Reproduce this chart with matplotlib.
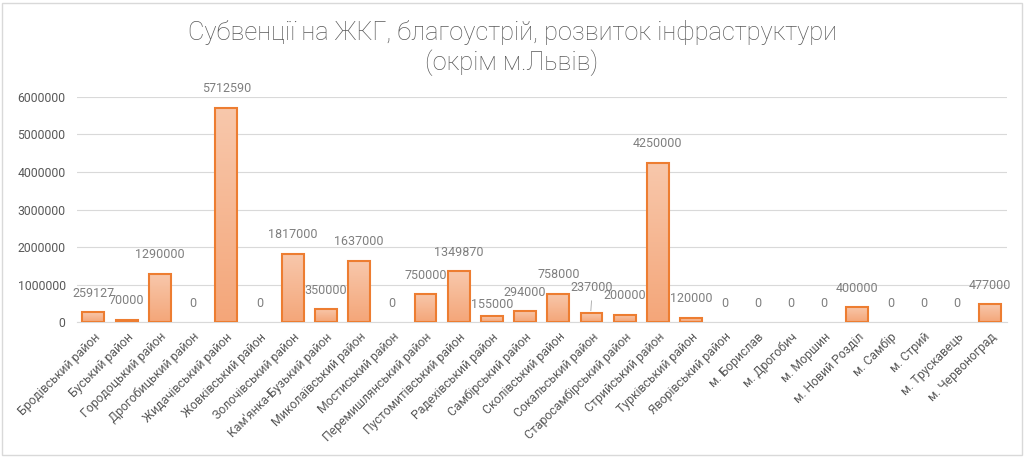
#!/usr/bin/env python3
"""Subventions bar chart (Excel-style)."""

import matplotlib
matplotlib.use("Agg")
import matplotlib.pyplot as plt
import numpy as np
from matplotlib.colors import LinearSegmentedColormap
from matplotlib.patches import Rectangle

plt.rcParams["font.family"] = ["Roboto", "DejaVu Sans"]

TITLE = "Субвенції на ЖКГ, благоустрій, розвиток інфраструктури\n(окрім м.Львів)"

districts = [
    "Бродівський район", "Буський район", "Городоцький район",
    "Дрогобицький район", "Жидачівський район", "Жовківський район",
    "Золочівський район", "Кам'янка-Бузький район", "Миколаївський район",
    "Мостиський район", "Перемишлянський район", "Пустомитівський район",
    "Радехівський район", "Самбірський район", "Сколівський район",
    "Сокальський район", "Старосамбірський район", "Стрийський район",
    "Турківський район", "Яворівський район", "м. Борислав", "м. Дрогобич",
    "м. Моршин", "м. Новий Розділ", "м. Самбір", "м. Стрий",
    "м. Трускавець", "м. Червоноград",
]
amounts = [
    259127, 70000, 1290000, 0, 5712590, 0, 1817000, 350000, 1637000, 0,
    750000, 1349870, 155000, 294000, 758000, 237000, 200000, 4250000,
    120000, 0, 0, 0, 0, 400000, 0, 0, 0, 477000,
]

EDGE = "#ED7D31"
TEXT = "#595959"
LABEL = "#7F7F7F"
grad = LinearSegmentedColormap.from_list("bar", ["#F4A679", "#F8C8AC"])

fig = plt.figure(figsize=(10.24, 4.57), dpi=100)
ax = fig.add_axes([0.075, 0.295, 0.908, 0.493])

x = np.arange(len(districts))
bars = ax.bar(x, amounts, 0.66, facecolor="none", edgecolor=EDGE,
              linewidth=1.5, zorder=3)

# vertical gradient fill inside each bar, no outline for empty bars
ramp = np.linspace(0, 1, 256).reshape(-1, 1)
for b in bars:
    if b.get_height() <= 0:
        b.set_linewidth(0)
        continue
    x0, w, h = b.get_x(), b.get_width(), b.get_height()
    im = ax.imshow(ramp, cmap=grad, origin="lower", aspect="auto",
                   extent=(x0, x0 + w, 0, h), zorder=2)
    im.set_clip_path(Rectangle((x0, 0), w, h, transform=ax.transData))

for i, val in enumerate(amounts):
    dy = 9
    if val == 237000:
        dy = 14
        ax.plot([i - 0.02, i], [val + 70000, val + 330000], color="#A6A6A6",
                lw=0.6, zorder=4)
    if val == 155000:
        dy = 4
    ax.annotate(str(val), xy=(i, val), xytext=(0, dy),
                textcoords="offset points", ha="center", va="bottom",
                fontsize=9, color=LABEL)

ax.set_xlim(-0.5, len(districts) - 0.5)
ax.set_ylim(0, 6000000)
ax.set_yticks(np.arange(0, 6000001, 1000000))
ax.set_yticklabels([str(v) for v in range(0, 6000001, 1000000)])
ax.set_xticks(x)
ax.set_xticklabels(districts, rotation=45, ha="right", rotation_mode="anchor")
ax.tick_params(axis="both", length=0, labelsize=8.8, labelcolor=TEXT)
ax.tick_params(axis="x", pad=6)
ax.tick_params(axis="y", pad=8)
ax.grid(axis="y", color="#D9D9D9", linewidth=0.8, zorder=0)
ax.set_axisbelow(True)
for s in ax.spines.values():
    s.set_visible(False)
ax.spines["bottom"].set_visible(True)
ax.spines["bottom"].set_color("#D9D9D9")

fig.text(0.5, 0.895, TITLE, ha="center", va="center", fontsize=18.3,
         fontweight="light", color=TEXT, linespacing=1.2)

fig.patches.append(Rectangle((0.002, 0.004), 0.996, 0.99, transform=fig.transFigure,
                             fill=False, edgecolor="#D9D9D9", linewidth=1))

fig.savefig("out.png", dpi=100)
